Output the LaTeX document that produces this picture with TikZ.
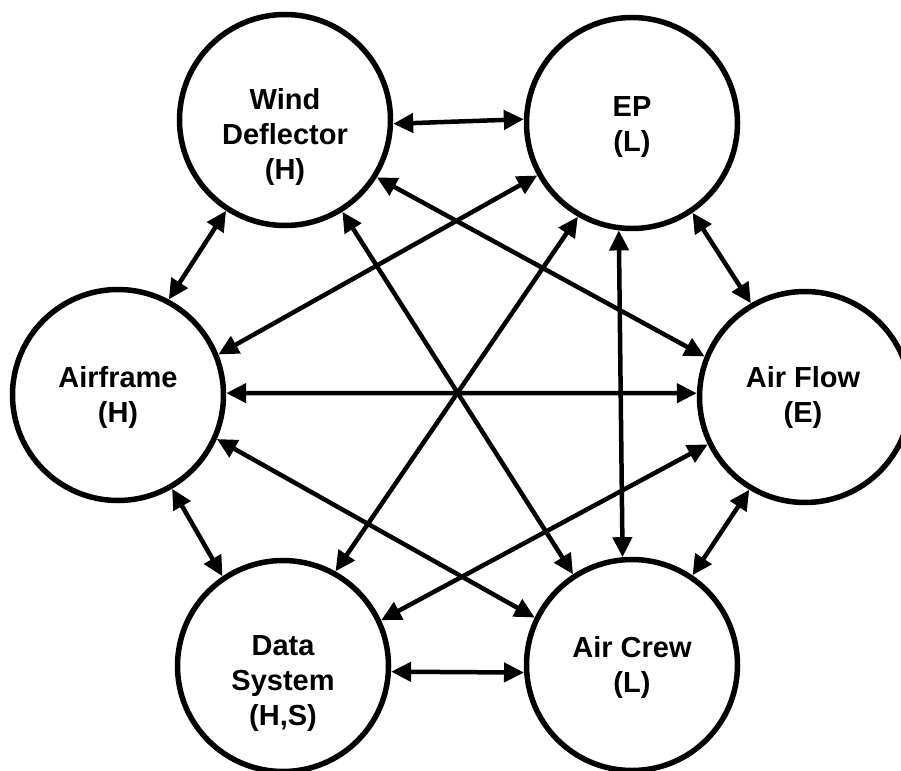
\documentclass[tikz,border=0pt]{standalone}
\usepackage{fontspec}
\setmainfont{Liberation Sans}
\usetikzlibrary{arrows.meta}
\begin{document}
\begin{tikzpicture}[x=1pt,y=-1pt,
  circ/.style={draw,circle,line width=5.5pt,minimum size=211pt,inner sep=0pt},
  lbl/.style={font=\fontsize{29}{35}\selectfont\bfseries,align=center},
  link/.style={line width=4.5pt,{Triangle[length=20pt,width=19pt]}-{Triangle[length=20pt,width=19pt]}}]
\useasboundingbox (0,0) rectangle (901,770);
\node[circ] (wd) at (285,120) {};
\node[circ] (ep) at (632,123) {};
\node[circ] (af) at (118,395) {};
\node[circ] (fl) at (805,397) {};
\node[circ] (ds) at (283,666) {};
\node[circ] (ac) at (632,665) {};
\node[lbl] (wdt) at ([yshift=-17pt]wd.center) {Wind\\Deflector\\(H)};
\node[lbl] (ept) at ([yshift=-4pt]ep.center) {EP\\(L)};
\node[lbl] (aft) at ([yshift=-2pt]af.center) {Airframe\\(H)};
\node[lbl] (flt) at ([xshift=-2pt]fl.center) {Air Flow\\(E)};
\node[lbl] (dst) at ([yshift=-18pt]ds.center) {Data\\System\\(H,S)};
\node[lbl] (act) at ([yshift=-2pt]ac.center) {Air Crew\\(L)};
\draw[link] (wd.-2) -- (ep.178);
\draw[link] (wd.-123) -- (af.62);
\draw[link] (wd.-32) -- (fl.158);
\draw[link] (wd.-58) -- (ac.123);
\draw[link] (ep.-151) -- (af.22);
\draw[link] (ep.-120) -- (ds.61);
\draw[link] (ep.-97) -- (ac.95);
\draw[link] (ep.-56) -- (fl.120);
\draw[link] (af.1) -- (fl.178);
\draw[link] (af.-60) -- (ds.124);
\draw[link] (af.-24) -- (ac.154);
\draw[link] (fl.-154) -- (ds.25);
\draw[link] (fl.-121) -- (ac.56);
\draw[link] (ds.-3) -- (ac.-176);
\end{tikzpicture}
\end{document}
